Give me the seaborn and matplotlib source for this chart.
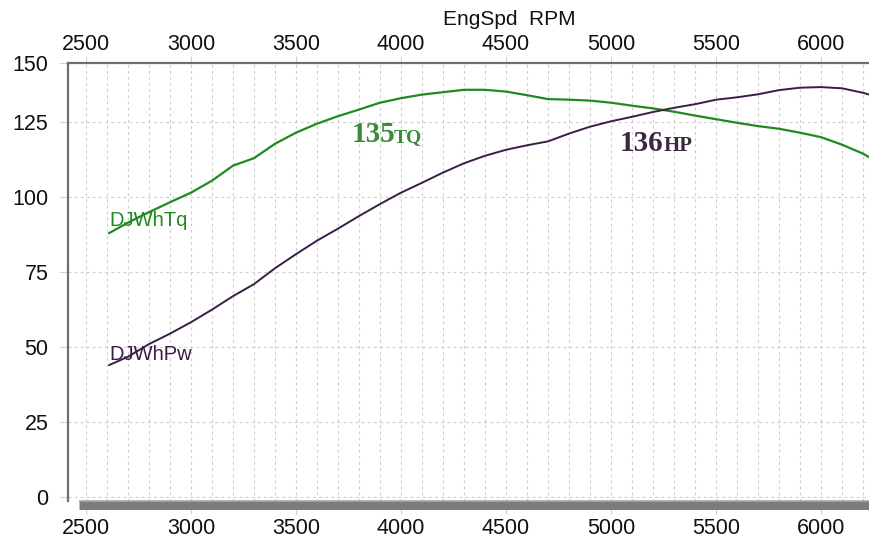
import matplotlib
matplotlib.use("Agg")
import matplotlib.pyplot as plt
import seaborn as sns
import pandas as pd
from matplotlib.ticker import MultipleLocator

# engine speed (RPM) and the two dyno curves
rpm = [2610, 2700, 2800, 2900, 3000, 3100, 3200, 3300, 3400, 3500,
       3600, 3700, 3800, 3900, 4000, 4100, 4200, 4300, 4400, 4500,
       4600, 4700, 4800, 4900, 5000, 5100, 5200, 5300, 5400, 5500,
       5600, 5700, 5800, 5900, 6000, 6100, 6200, 6250]
torque = [88.0, 91.5, 95.0, 98.3, 101.5, 105.5, 110.5, 113.0, 117.8, 121.5,
          124.5, 127.0, 129.2, 131.5, 133.0, 134.2, 135.0, 135.8, 135.8, 135.2,
          134.0, 132.7, 132.5, 132.2, 131.5, 130.5, 129.6, 128.5, 127.2, 126.0,
          124.8, 123.7, 122.8, 121.5, 120.0, 117.5, 114.5, 112.5]
power = [44.0, 46.8, 51.0, 54.5, 58.3, 62.5, 67.0, 71.0, 76.3, 81.0,
         85.5, 89.5, 93.7, 97.7, 101.5, 104.8, 108.2, 111.3, 113.8, 115.8,
         117.3, 118.6, 121.2, 123.5, 125.3, 126.8, 128.4, 129.8, 131.0, 132.5,
         133.3, 134.3, 135.7, 136.5, 136.7, 136.3, 134.8, 133.8]

x_ticks = [2500, 3000, 3500, 4000, 4500, 5000, 5500, 6000]
y_tick_labels = ["0", "25", "50", "75", "100", "125", "150"]
x_title = "EngSpd  RPM"

df = pd.DataFrame({"rpm": rpm, "DJWhTq": torque, "DJWhPw": power})

GREEN = "#1f8a1f"
PURPLE = "#3b1d45"
Y_TOP = 144.7

sns.set_theme(style="white")
plt.rcParams["font.family"] = ["Liberation Sans", "DejaVu Sans"]

fig = plt.figure(figsize=(8.7, 5.44), dpi=100)
ax = fig.add_axes([0.078, 0.079, 0.922, 0.805])

sns.lineplot(data=df, x="rpm", y="DJWhTq", color=GREEN, linewidth=1.6, ax=ax, zorder=3)
sns.lineplot(data=df, x="rpm", y="DJWhPw", color=PURPLE, linewidth=1.4, ax=ax, zorder=3)

ax.set_xlim(2414, 6233)
ax.set_ylim(-1.3, Y_TOP)
ax.set_xlabel("")
ax.set_ylabel("")

# x axis: labels on bottom, grid every 100 rpm
ax.set_xticks(x_ticks)
ax.xaxis.set_minor_locator(MultipleLocator(100))
ax.tick_params(axis="x", which="major", labelsize=15.5, length=9, width=0.8,
               color="#cfcfcf", pad=3, labelcolor="#111111")
ax.tick_params(axis="x", which="minor", length=0)

# y axis: the top label sits on the clipped top edge like the dyno software
ax.set_yticks([0, 25, 50, 75, 100, 125, Y_TOP], labels=y_tick_labels)
ax.yaxis.set_minor_locator(MultipleLocator(5))
ax.tick_params(axis="y", which="major", labelsize=15.5, length=6, width=0.8,
               color="#cfcfcf", pad=8, labelcolor="#111111")
ax.tick_params(axis="y", which="minor", direction="in", length=8, width=0.8,
               color="#d5d5d5")
ax.tick_params(left=True, bottom=True)

grid_style = dict(color="#cccccc", linestyle=(0, (2.5, 3)), linewidth=0.8)
ax.grid(True, axis="x", which="both", **grid_style)
ax.grid(True, axis="y", which="major", **grid_style)
ax.set_axisbelow(True)

for side in ["right", "bottom"]:
    ax.spines[side].set_visible(False)
for side in ["left", "top"]:
    ax.spines[side].set_color("#6e6e6e")
    ax.spines[side].set_linewidth(1.6)

# top axis with its own labels
top = ax.secondary_xaxis("top")
top.set_xticks(x_ticks)
top.tick_params(labelsize=15.5, length=5, width=0.8, color="#cfcfcf", pad=1,
                labelcolor="#111111")
top.spines["top"].set_visible(False)
ax.text(0.55, 1.10, x_title, transform=ax.transAxes, fontsize=15,
        color="#111111", ha="center", va="center")

# gray scrollbar-like strip along the bottom
ax.axhline(-2.6, xmin=0.014, xmax=1, color="#7c7c7c", linewidth=6.5,
           solid_capstyle="butt", clip_on=False, zorder=4)
ax.axhline(-1.2, xmin=0.014, xmax=1, color="#a8a8a8", linewidth=1.2,
           solid_capstyle="butt", clip_on=False, zorder=5)

# series names
ax.text(2614, 92.3, "DJWhTq", color=GREEN, fontsize=14.5, va="center", ha="left")
ax.text(2614, 47.7, "DJWhPw", color=PURPLE, fontsize=14.5, va="center", ha="left")

# handwritten peak notes
note = dict(family=["Liberation Serif", "DejaVu Serif"], weight="bold", va="baseline")
ax.text(3767, 118.5, "135", color="#3b8b3b", fontsize=21, **note)
ax.text(3965, 118.3, "TQ", color="#3b8b3b", fontsize=14, **note)
ax.text(5040, 115.5, "136", color="#3a2a3e", fontsize=21, **note)
ax.text(5250, 115.3, "HP", color="#3a2a3e", fontsize=15, **note)

fig.savefig("out.png", dpi=100)
